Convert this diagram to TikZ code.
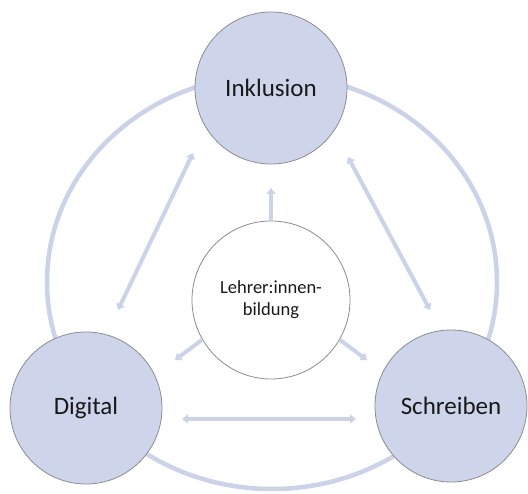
\documentclass[tikz,border=0pt]{standalone}
\usepackage{fontspec}
\setmainfont{Carlito}
\usetikzlibrary{arrows.meta}
\definecolor{ringc}{RGB}{204,211,233}
\definecolor{fillc}{RGB}{206,213,234}
\definecolor{edgec}{RGB}{140,140,145}
\definecolor{txtc}{RGB}{25,25,25}
\tikzset{
  topic/.style={circle, draw=edgec, line width=0.8pt, fill=fillc, minimum size=152pt, inner sep=0pt,
    text=txtc, font=\fontsize{25}{30}\selectfont},
  hub/.style={circle, draw=edgec, line width=0.8pt, fill=white, minimum size=158pt, inner sep=0pt,
    text=txtc, align=center, font=\fontsize{18.5}{22}\selectfont},
  ringline/.style={draw=ringc, line width=4.5pt},
  dblarrow/.style={draw=ringc, line width=4pt, {Triangle[width=9pt,length=6pt]}-{Triangle[width=9pt,length=6pt]}},
  outarrow/.style={draw=ringc, line width=4pt, -{Triangle[width=9pt,length=6pt]}}
}
\begin{document}
\begin{tikzpicture}[x=1pt,y=-1pt]
\useasboundingbox (0,0) rectangle (528,494);
% outer ring
\draw[ringline] (272,282) ellipse [x radius=225, y radius=207];
% nodes
\node[topic] (ink) at (271,88) {Inklusion};
\node[topic] (dig) at (86,408) {Digital};
\node[topic] (sch) at (451,406) {Schreiben};
\node[hub] (hub) at (271,300) {Lehrer:innen-\\bildung};
% arrow end points
\coordinate (idA) at (193,153);
\coordinate (idB) at (118,310);
\coordinate (isA) at (348,157);
\coordinate (isB) at (430,310);
\coordinate (dsA) at (182,419);
\coordinate (dsB) at (356,419);
\coordinate (hUp) at (271,188);
\coordinate (hL) at (175,360);
\coordinate (hR) at (367,360);
% connectors
\draw[dblarrow] (idA) -- (idB);
\draw[dblarrow] (isA) -- (isB);
\draw[dblarrow] (dsA) -- (dsB);
\draw[outarrow] (hub.90) -- (hUp);
\draw[outarrow] (hub.210) -- (hL);
\draw[outarrow] (hub.330) -- (hR);
\end{tikzpicture}
\end{document}
